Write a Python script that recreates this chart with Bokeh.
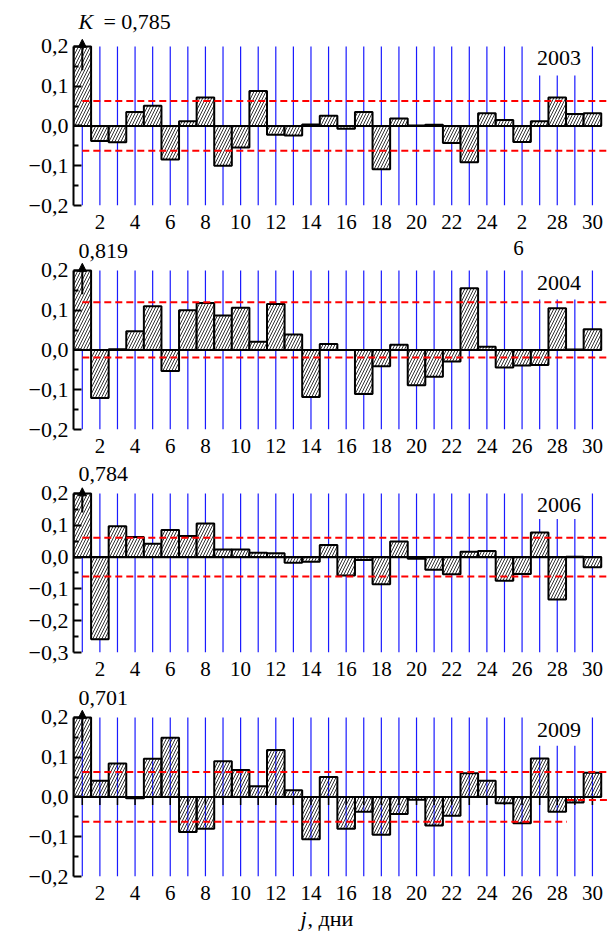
import numpy as np
from bokeh.plotting import figure
from bokeh.layouts import column
from bokeh.models import FixedTicker, Label, Arrow, NormalHead, Range1d
from bokeh.embed import file_html
from bokeh.resources import INLINE

days = list(range(1, 31))
years = ["2003", "2004", "2006", "2009"]
k_labels = ["0,785", "0,819", "0,784", "0,701"]

r2003 = [0.785, -0.038, -0.041, 0.035, 0.051, -0.084, 0.012, 0.072, -0.100, -0.054,
         0.088, -0.022, -0.024, 0.004, 0.026, -0.007, 0.035, -0.109, 0.019, 0.001,
         0.003, -0.043, -0.091, 0.032, 0.015, -0.040, 0.012, 0.072, 0.030, 0.032]
r2004 = [0.819, -0.121, 0.002, 0.047, 0.110, -0.053, 0.100, 0.118, 0.087, 0.106,
         0.021, 0.116, 0.039, -0.118, 0.015, 0.000, -0.111, -0.041, 0.013, -0.089,
         -0.067, -0.029, 0.155, 0.008, -0.044, -0.039, -0.038, 0.105, 0.001, 0.052]
r2006 = [0.784, -0.258, 0.097, 0.063, 0.042, 0.085, 0.066, 0.106, 0.024, 0.024,
         0.014, 0.012, -0.018, -0.015, 0.038, -0.058, -0.009, -0.085, 0.049, -0.005,
         -0.040, -0.054, 0.017, 0.019, -0.074, -0.053, 0.077, -0.133, 0.001, -0.032]
r2009 = [0.701, 0.041, 0.084, -0.003, 0.096, 0.149, -0.088, -0.080, 0.090, 0.068,
         0.027, 0.118, 0.017, -0.106, 0.050, -0.080, -0.037, -0.095, -0.043, -0.007,
         -0.072, -0.047, 0.060, 0.041, -0.016, -0.066, 0.097, -0.037, -0.014, 0.061]
series = [r2003, r2004, r2006, r2009]

upper = [0.063, 0.120, 0.061, 0.063]
lower = [-0.062, -0.019, -0.061, -0.062]
y_mins = [-0.2, -0.2, -0.3, -0.2]
y_max = 0.2
y_ends = [0.3157, 0.288, 0.3069, 0.288]      # room above the axis for the K labels
label_cut = [0.127, 0.127, 0.120, 0.129]   # blue lines stop below the year label
year_y = [0.171, 0.168, 0.1645, 0.168]
k_y = [0.262, 0.249, 0.261, 0.25]

x_ticks = list(range(2, 31, 2))

FONT = "Liberation Serif"
FS = "21px"
FSY = "22px"
heights = [235, 224, 223, 224]
bottoms = [30, 30, 30, 30]
X_END = 30.97

def fmt(v):
    s = f"{abs(v):.1f}".replace(".", ",")
    return ("\u2212" + s) if v < 0 else s

def lbl(x, y, text, size=FS, style="normal", align="left"):
    return Label(x=x, y=y, text=text, text_align=align, text_baseline="middle",
                 text_font=FONT, text_font_size=size, text_font_style=style,
                 text_color="black")

figs = []
for i in range(4):
    ymin = y_mins[i]
    p = figure(width=609, height=heights[i], output_backend="svg", toolbar_location=None,
               x_range=Range1d(0.5, X_END), y_range=Range1d(ymin, y_ends[i]),
               min_border_left=73, min_border_right=0,
               min_border_top=0, min_border_bottom=bottoms[i])
    p.outline_line_color = None
    p.grid.visible = False
    p.background_fill_color = "white"

    # blue vertical lines
    y1 = [label_cut[i] if d in (27, 28, 29) else y_max for d in days]
    p.segment(x0=days, y0=[ymin] * 30, x1=days, y1=y1, line_color="#1a1aff", line_width=1.2)

    vals = np.array(series[i])
    tops_v = np.minimum(vals, y_max)
    if i == 3:
        p.segment(x0=days, y0=[0] * 30, x1=days, y1=[-0.02] * 30, line_color="black", line_width=1.5)
    p.vbar(x=days, bottom=0, top=tops_v, width=1.0,
           fill_color="white", fill_alpha=(0.0 if i == 3 else 1.0),
           line_color="black", line_width=2,
           hatch_pattern="/", hatch_color="black", hatch_scale=6, hatch_weight=0.8)

    # zero line
    p.segment(x0=[0.5], y0=[0], x1=[30.5], y1=[0], line_color="black", line_width=2.2)

    # red dashed thresholds
    p.segment(x0=[1], y0=[upper[i]], x1=[31], y1=[upper[i]], line_color="red",
              line_width=2, line_dash="7 4")
    if i == 3:
        p.segment(x0=[1, 28.55], y0=[lower[i], -0.0075], x1=[28.55, 31], y1=[lower[i], -0.0075],
                  line_color="red", line_width=2, line_dash="7 4")
    else:
        p.segment(x0=[1], y0=[lower[i]], x1=[31], y1=[lower[i]], line_color="red",
                  line_width=2, line_dash="7 4")

    # arrow: first value is beyond the scale
    p.add_layout(Arrow(end=NormalHead(size=8, fill_color="black", line_color="black"),
                       x_start=1, y_start=0.14, x_end=1, y_end=0.218,
                       line_color="black", line_width=2))

    # year label
    p.add_layout(lbl(28.1, year_y[i], years[i], size="22px", align="center"))

    # K label
    if i == 0:
        p.add_layout(lbl(0.78, k_y[i], "K", size="22px", style="italic"))
        p.add_layout(lbl(2.2, k_y[i], "= " + k_labels[i], size="22px"))
    else:
        p.add_layout(lbl(0.78, k_y[i], k_labels[i], size="22px"))

    # axes
    yt = [round(v, 1) for v in np.arange(ymin, y_max + 0.001, 0.1)]
    ymt = [round(v + 0.05, 2) for v in yt[:-1]]
    p.yaxis.ticker = FixedTicker(ticks=yt, minor_ticks=ymt)
    p.yaxis.bounds = (ymin, y_max)
    p.yaxis.major_label_overrides = {v: fmt(v) for v in yt}
    p.yaxis.major_tick_in = 8
    p.yaxis.major_tick_out = 0
    p.yaxis.minor_tick_in = 5
    p.yaxis.minor_tick_out = 0
    p.yaxis.axis_line_width = 2
    p.yaxis.major_tick_line_width = 2
    p.yaxis.minor_tick_line_width = 2
    p.yaxis.major_label_standoff = 5
    p.yaxis.major_label_text_font = FONT
    p.yaxis.major_label_text_font_size = FSY
    p.yaxis.major_label_text_color = "black"

    p.xaxis.ticker = FixedTicker(ticks=x_ticks, minor_ticks=[])
    p.xaxis.axis_line_color = None
    p.xaxis.major_tick_line_color = None
    p.xaxis.minor_tick_line_color = None
    p.xaxis.major_label_standoff = 3
    p.xaxis.major_label_text_font = FONT
    p.xaxis.major_label_text_font_size = FS
    p.xaxis.major_label_text_color = "black"
    if i == 0:
        p.xaxis.major_label_overrides = {26: "2"}
    if i == 1:
        p.add_layout(lbl(25.8, 0.256, "6", align="center"))
    figs.append(p)

# strip for the x-axis title
q = figure(width=609, height=31, output_backend="svg", toolbar_location=None,
           x_range=Range1d(0.5, X_END), y_range=Range1d(0, 1),
           min_border_left=73, min_border_right=0, min_border_top=0, min_border_bottom=0)
q.axis.visible = False
q.grid.visible = False
q.outline_line_color = None
q.add_layout(lbl(13.4, 0.6, "j", size="22px", style="italic"))
q.add_layout(lbl(13.8, 0.6, ", дни", size="22px"))
figs.append(q)

layout = column(*figs, spacing=0)
open("out.html", "w").write(file_html(layout, INLINE))
